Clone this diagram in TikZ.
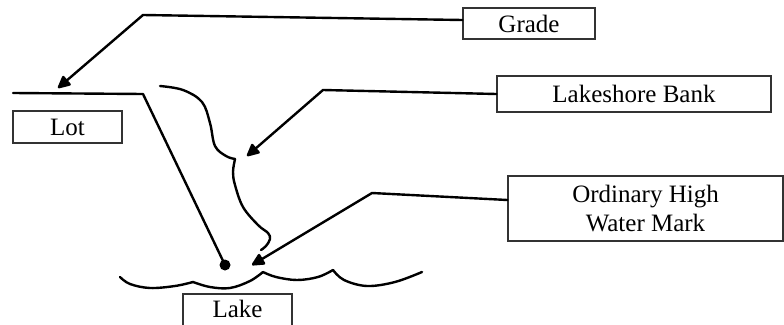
\documentclass[tikz,border=0pt]{standalone}
\usepackage{fontspec}
\setmainfont{Liberation Serif}
\usetikzlibrary{arrows.meta}
\tikzset{
  labelbox/.style={draw=black!80, line width=1.2pt, fill=white, inner sep=0pt, font=\fontsize{25}{29}\selectfont, align=center},
  sketch/.style={line width=2.4pt, line cap=round, line join=round},
  pointer/.style={sketch, -{Triangle[length=14pt,width=13pt,round]}},
}
\begin{document}
\begin{tikzpicture}[x=1pt,y=-1pt]
\useasboundingbox (0,0) rectangle (784,324);
% label boxes
\node[labelbox, minimum width=132pt, minimum height=31pt] (grade) at (529,23.5) {Grade};
\node[labelbox, minimum width=274pt, minimum height=36pt] (bank) at (634,94) {Lakeshore Bank};
\node[labelbox, minimum width=275pt, minimum height=65pt] (ohwm) at (645.5,208.5) {Ordinary High\\Water Mark};
\node[labelbox, minimum width=109pt, minimum height=32pt] (lot) at (67.5,127) {Lot};
\node[labelbox, draw=none, fill=none, minimum width=109pt, minimum height=26pt] (lake) at (237.5,309) {Lake};
\draw[draw=black!80, line width=1.2pt] (183,326) |- (292,294) -- (292,326);
% coordinates
\coordinate (gradebend) at (143,15);
\coordinate (gradetip) at (58,88);
\coordinate (bankbend) at (323,90);
\coordinate (banktip) at (247,156);
\coordinate (ohwmbend) at (372,193);
\coordinate (ohwmtip) at (252,265);
\coordinate (lotstart) at (13,93);
\coordinate (lotedge) at (143,94);
\coordinate (lotdot) at (225,265);
% ground line and slope
\draw[sketch] (lotstart) -- (lotedge) -- (lotdot);
\fill (lotdot) circle (5.5pt);
% lakeshore bank curve
\draw[sketch] plot[smooth, tension=0.6] coordinates {(160,86) (183,90) (202,102) (210,123) (215,146) (226,156) (235,159)};
\draw[sketch] plot[smooth, tension=0.6] coordinates {(235,159) (233,172) (235,185) (243,207) (258,225) (268,233) (270,239) (266,246) (261,250)};
% lake surface waves
\draw[sketch] plot[smooth, tension=0.6] coordinates {(120,277) (130,284) (150,288) (175,286) (193,282)};
\draw[sketch] plot[smooth, tension=0.6] coordinates {(193,282) (210,287) (230,288) (250,281) (263,272)};
\draw[sketch] plot[smooth, tension=0.6] coordinates {(263,272) (276,277) (297,280) (318,277) (333,270)};
\draw[sketch] plot[smooth, tension=0.6] coordinates {(333,270) (344,280) (367,286) (395,282) (422,272)};
% pointers
\draw[pointer] (grade.west |- 0,20) -- (gradebend) -- (gradetip);
\draw[pointer] (bank.west) -- (bankbend) -- (banktip);
\draw[pointer] (ohwm.west |- 0,200) -- (ohwmbend) -- (ohwmtip);
\end{tikzpicture}
\end{document}
